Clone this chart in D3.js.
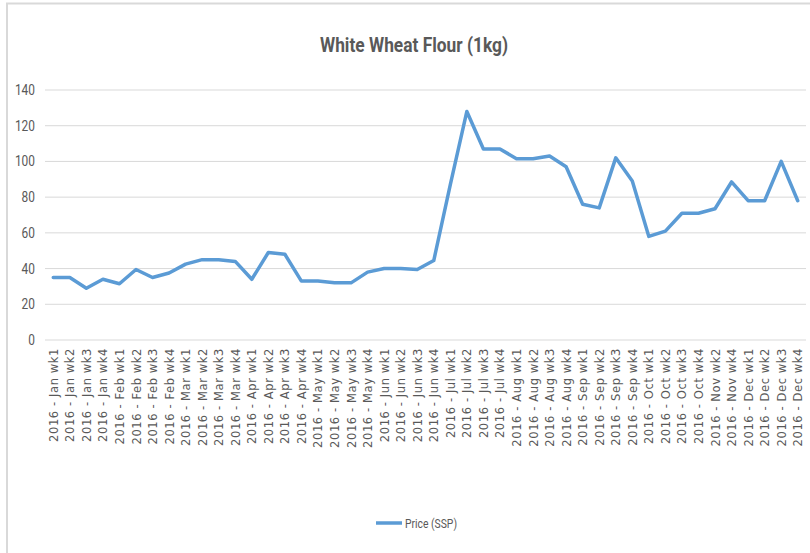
<!DOCTYPE html>
<html>
<head>
<meta charset="utf-8">
<script src="https://cdn.jsdelivr.net/npm/d3@7"></script>
<style>
  body { margin: 0; background: #fff; }
</style>
</head>
<body>
<script>
// weekly categories (Nov only has wk2 and wk4)
const months = ['Jan', 'Feb', 'Mar', 'Apr', 'May', 'Jun', 'Jul', 'Aug', 'Sep', 'Oct', 'Nov', 'Dec']
const weeks = ['wk1', 'wk2', 'wk3', 'wk4']
const categories = []
months.forEach(m => {
  const wks = m === 'Nov' ? ['wk2', 'wk4'] : weeks
  wks.forEach(w => categories.push('2016 - ' + m + ' ' + w))
})

const prices = [
  35, 35, 29, 34, 31.5, 39.5, 35, 37.5,
  42.5, 45, 45, 44, 34, 49, 48, 33,
  33, 32, 32, 38, 40, 40, 39.5, 44.5,
  87, 128, 107, 107, 101.5, 101.5, 103, 97,
  76, 74, 102, 89, 58, 61, 71, 71,
  73.5, 88.5, 78, 78, 100, 78
]

const yTicks = [0, 20, 40, 60, 80, 100, 120, 140]
const title = 'White Wheat Flour (1kg)'
const seriesName = 'Price (SSP)'

draw()

function draw() {
  const w = 810
  const h = 553
  const margin = { top: 90, bottom: 213, left: 45, right: 4 }
  const narrow = '"Roboto", "Liberation Sans", sans-serif'

  const svg = d3.select('body')
    .append('svg')
    .attr('width', w)
    .attr('height', h)

  // outer frame (only top and left edges are visible in the source)
  svg.append('path')
    .attr('d', `M7,${h} V3.5 H${w}`)
    .style('fill', 'none')
    .style('stroke', '#d9d9d9')
    .style('stroke-width', 2)

  const x = d3.scalePoint()
    .domain(categories)
    .range([margin.left, w - margin.right])
    .padding(0.5)

  const y = d3.scaleLinear()
    .domain([0, 140])
    .range([h - margin.bottom, margin.top])

  // gridlines
  svg.append('g')
    .selectAll('line')
    .data(yTicks)
    .enter()
    .append('line')
    .attr('x1', margin.left)
    .attr('x2', w - margin.right)
    .attr('y1', d => y(d))
    .attr('y2', d => y(d))
    .style('stroke', '#d9d9d9')
    .style('stroke-width', 1)

  // y axis labels
  const yAxis = d3.axisLeft(y).tickValues(yTicks).tickSize(0).tickPadding(0)
  const yg = svg.append('g')
    .attr('transform', `translate(${margin.left - 10},0)`)
    .call(yAxis)
  yg.select('.domain').remove()
  yg.selectAll('text')
    .style('font-family', narrow)
    .style('font-size', '14px')
    .style('fill', '#595959')
    .attr('transform', 'scale(0.85,1)')
    .attr('x', 0)

  // x axis labels, rotated
  const xAxis = d3.axisBottom(x).tickSize(0).tickPadding(0)
  const xg = svg.append('g')
    .attr('transform', `translate(0,${h - margin.bottom})`)
    .call(xAxis)
  xg.select('.domain').remove()
  xg.selectAll('text')
    .attr('transform', 'rotate(-90)')
    .attr('x', -8)
    .attr('y', 0)
    .attr('dy', '0.35em')
    .style('text-anchor', 'end')
    .style('font-family', '"DejaVu Sans", sans-serif')
    .style('font-size', '11.5px')
    .style('letter-spacing', '0.6px')
    .style('fill', '#595959')

  // the line
  const line = d3.line()
    .x((d, i) => x(categories[i]))
    .y(d => y(d))

  svg.append('path')
    .datum(prices)
    .attr('d', line)
    .style('fill', 'none')
    .style('stroke', '#5b9bd5')
    .style('stroke-width', 3.5)
    .style('stroke-linejoin', 'round')
    .style('stroke-linecap', 'round')

  // title
  svg.append('text')
    .attr('x', 414)
    .attr('y', 52)
    .attr('text-anchor', 'middle')
    .attr('textLength', 188)
    .attr('lengthAdjust', 'spacingAndGlyphs')
    .style('font-family', narrow)
    .style('font-weight', 'bold')
    .style('font-size', '21px')
    .style('fill', '#595959')
    .text(title)

  // legend
  const lg = svg.append('g').attr('transform', 'translate(376,523)')
  lg.append('line')
    .attr('x1', 0)
    .attr('x2', 26)
    .style('stroke', '#5b9bd5')
    .style('stroke-width', 3.5)
  lg.append('text')
    .attr('x', 29)
    .attr('dy', '0.35em')
    .attr('textLength', 52)
    .attr('lengthAdjust', 'spacingAndGlyphs')
    .style('font-family', narrow)
    .style('font-size', '13px')
    .style('fill', '#595959')
    .text(seriesName)
}
</script>
</body>
</html>
